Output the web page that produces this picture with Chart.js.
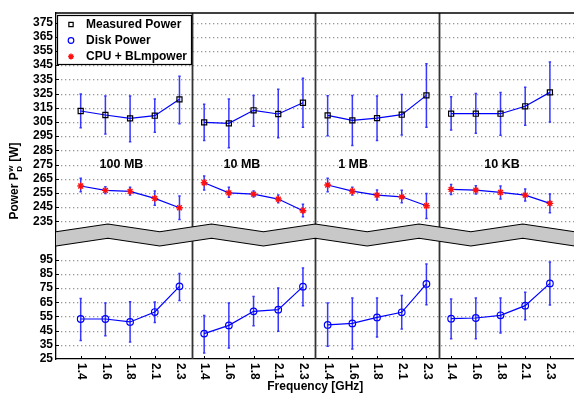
<!DOCTYPE html>
<html>
<head>
<meta charset="utf-8">
<script src="https://cdn.jsdelivr.net/npm/chart.js@4.4.1/dist/chart.umd.min.js"></script>
<style>
  html, body { margin: 0; padding: 0; overflow: hidden; background: #fff; }
  canvas { display: block; }
</style>
</head>
<body>
<canvas id="chart" width="580" height="399"></canvas>
<script>
const frequencies = ['1.4', '1.6', '1.8', '2.1', '2.3'];
const panels = ['100 MB', '10 MB', '1 MB', '10 KB'];
const panelLabelX = [2.65, 7.53, 12.03, 18.06];
const panelLabelY = 275;

// 4 panels x 5 frequencies
const measured     = [312.7, 309.9, 307.5, 309.4, 320.9,  304.7, 304.0, 313.2, 310.6, 318.5,  309.6, 306.1, 307.7, 310.1, 323.7,  310.8, 310.8, 310.8, 316.0, 325.8];
const measuredLow  = [300.9, 296.5, 291.1, 297.7, 303.7,  292.0, 286.8, 301.9, 293.9, 301.2,  295.3, 288.5, 292.0, 295.8, 301.2,  299.3, 297.0, 295.6, 302.6, 304.9];
const measuredHigh = [324.6, 323.2, 323.2, 321.1, 337.1,  317.4, 321.1, 323.7, 328.0, 335.7,  323.4, 323.7, 323.2, 324.4, 346.0,  322.7, 325.1, 325.8, 329.4, 347.2];

const disk     = [53.2, 53.2, 51.1, 58.1, 76.2,  42.9, 48.7, 58.6, 59.8, 76.0,  49.0, 50.1, 54.3, 57.9, 77.9,  53.4, 53.9, 55.8, 62.6, 78.3];
const diskLow  = [38.1, 41.4, 37.0, 50.8, 66.3,  29.2, 32.8, 48.5, 44.5, 62.6,  33.9, 32.1, 40.5, 46.1, 63.3,  39.3, 39.3, 43.3, 52.7, 63.1];
const diskHigh = [67.7, 64.5, 65.4, 65.2, 85.3,  55.7, 64.5, 69.1, 75.0, 89.1,  64.5, 68.0, 68.0, 69.8, 92.0,  67.3, 68.0, 68.0, 72.0, 93.4];

const cpu     = [259.9, 256.8, 256.1, 251.2, 244.6,  262.2, 255.1, 254.2, 250.7, 242.5,  260.6, 256.3, 253.5, 252.3, 246.0,  257.5, 257.0, 255.4, 253.5, 247.7];
const cpuLow  = [255.8, 254.7, 253.5, 246.3, 236.4,  257.0, 251.9, 252.3, 248.1, 238.2,  255.8, 253.5, 250.0, 248.1, 237.1,  254.0, 254.2, 250.7, 249.3, 241.1];
const cpuHigh = [265.3, 259.4, 259.0, 256.3, 252.8,  266.9, 259.0, 256.3, 253.5, 247.0,  265.3, 259.0, 257.0, 256.9, 254.7,  261.0, 260.1, 259.9, 257.7, 254.2];

const upperTicks = [235, 245, 255, 265, 275, 285, 295, 305, 315, 325, 335, 345, 355, 365, 375];
const lowerTicks = [25, 35, 45, 55, 65, 75, 85, 95];

const FONT = '"Liberation Sans", Arial, Helvetica, sans-serif';
const BLUE = '#0000ff';

// one point per frequency, with a null between panels so lines don't join
function toPoints(values) {
  const pts = [];
  values.forEach((v, i) => {
    pts.push({ x: i + 1, y: v });
    if (i % 5 === 4 && i < values.length - 1) pts.push({ x: i + 1.5, y: null });
  });
  return pts;
}

const datasets = [
  {
    label: 'Measured Power', yAxisID: 'yHigh', data: toPoints(measured),
    errLow: measuredLow, errHigh: measuredHigh,
    borderColor: BLUE, borderWidth: 1.2, pointStyle: 'rect', pointRadius: 3.6,
    pointBorderColor: '#000', pointBackgroundColor: 'rgba(0,0,0,0)', pointBorderWidth: 1.2
  },
  {
    label: 'Disk Power', yAxisID: 'yLow', data: toPoints(disk),
    errLow: diskLow, errHigh: diskHigh,
    borderColor: BLUE, borderWidth: 1.2, pointStyle: 'circle', pointRadius: 3.3,
    pointBorderColor: BLUE, pointBackgroundColor: 'rgba(0,0,0,0)', pointBorderWidth: 1.2
  },
  {
    label: 'CPU + BLmpower', yAxisID: 'yHigh', data: toPoints(cpu),
    errLow: cpuLow, errHigh: cpuHigh,
    borderColor: BLUE, borderWidth: 1.2, pointStyle: 'star', pointRadius: 3.4,
    pointBorderColor: '#ff1010', pointBackgroundColor: '#ff1010', pointBorderWidth: 1.4
  }
];

// dotted horizontal rule made of 1px dots, 4px apart
function dottedRule(ctx, x0, x1, py) {
  ctx.fillStyle = '#999';
  for (let px = Math.round(x0); px < x1; px += 4) ctx.fillRect(px, py, 1.3, 1.3);
}

const decorations = {
  id: 'decorations',
  beforeDatasetsDraw(chart) {
    const { ctx, chartArea: a, scales: { x, yLow, yHigh } } = chart;
    ctx.save();
    // dotted grid + small inward y ticks
    [[yHigh, upperTicks], [yLow, lowerTicks.slice(1)]].forEach(([s, values]) => {
      values.forEach(v => {
        const py = Math.round(s.getPixelForValue(v));
        dottedRule(ctx, a.left + 5, a.right, py);
        ctx.fillStyle = '#000';
        ctx.fillRect(a.left, py, 3, 1);
      });
    });
    // panel separators
    ctx.strokeStyle = '#333';
    ctx.lineWidth = 1.8;
    [5.5, 10.5, 15.5].forEach(v => {
      const px = Math.round(x.getPixelForValue(v)) + 0.5;
      ctx.beginPath(); ctx.moveTo(px, a.top); ctx.lineTo(px, a.bottom); ctx.stroke();
    });
    // error bars
    ctx.strokeStyle = 'rgba(20,20,255,0.85)';
    ctx.lineWidth = 1.5;
    chart.data.datasets.forEach(ds => {
      const y = chart.scales[ds.yAxisID];
      ds.errLow.forEach((lo, i) => {
        const px = x.getPixelForValue(i + 1);
        const y1 = y.getPixelForValue(lo), y2 = y.getPixelForValue(ds.errHigh[i]);
        ctx.beginPath();
        ctx.moveTo(px, y1); ctx.lineTo(px, y2);
        ctx.moveTo(px - 1.2, y1); ctx.lineTo(px + 1.2, y1);
        ctx.moveTo(px - 1.2, y2); ctx.lineTo(px + 1.2, y2);
        ctx.stroke();
      });
    });
    // small inward x ticks
    ctx.strokeStyle = '#000';
    ctx.lineWidth = 1;
    for (let i = 1; i <= 20; i++) {
      const px = Math.round(x.getPixelForValue(i)) + 0.5;
      ctx.beginPath(); ctx.moveTo(px, a.bottom); ctx.lineTo(px, a.bottom - 3); ctx.stroke();
    }
    ctx.restore();
  },
  afterDraw(chart) {
    const { ctx, chartArea: a, scales: { x, yHigh } } = chart;
    ctx.save();

    // top frame line
    ctx.strokeStyle = '#000';
    ctx.lineWidth = 1.3;
    ctx.beginPath(); ctx.moveTo(a.left, a.top); ctx.lineTo(a.right, a.top); ctx.stroke();

    // axis break band
    const mid = yHigh.bottom;
    const seg = (a.right - a.left) / 10;
    const upper = [], lower = [];
    for (let k = 0; k <= 10; k++) {
      const px = a.left + k * seg;
      const up = k % 2 === 1;
      upper.push([px, up ? mid - 11 : mid - 3.3]);
      lower.push([px, up ? mid + 3.3 : mid + 11]);
    }
    ctx.beginPath();
    upper.forEach(([px, py], k) => k ? ctx.lineTo(px, py) : ctx.moveTo(px, py));
    lower.slice().reverse().forEach(([px, py]) => ctx.lineTo(px, py));
    ctx.closePath();
    ctx.fillStyle = '#c8c8c8';
    ctx.fill();
    ctx.lineWidth = 1.1;
    ctx.strokeStyle = '#000';
    [upper, lower].forEach(edge => {
      ctx.beginPath();
      edge.forEach(([px, py], k) => k ? ctx.lineTo(px, py) : ctx.moveTo(px, py));
      ctx.stroke();
    });

    // panel labels
    ctx.fillStyle = '#000';
    ctx.font = 'bold 12.5px ' + FONT;
    ctx.textAlign = 'center';
    ctx.textBaseline = 'middle';
    panels.forEach((p, i) => {
      ctx.fillText(p, x.getPixelForValue(panelLabelX[i]), yHigh.getPixelForValue(panelLabelY));
    });

    // x tick labels, rotated clockwise
    ctx.font = 'bold 12px ' + FONT;
    ctx.textAlign = 'left';
    for (let i = 0; i < 20; i++) {
      ctx.save();
      ctx.translate(x.getPixelForValue(i + 1) + 0.5, a.bottom + 4);
      ctx.rotate(Math.PI / 2);
      ctx.fillText(frequencies[i % 5], 0, 0);
      ctx.restore();
    }

    // x title
    ctx.textAlign = 'center';
    ctx.fillText('Frequency [GHz]', (a.left + a.right) / 2, 387);

    // y title with sub/superscript
    drawYTitle(ctx, 13.5, 181);

    // legend
    drawLegend(ctx, chart);
    ctx.restore();
  }
};

function drawYTitle(ctx, cx, cy) {
  const big = 'bold 12px ' + FONT, small = 'bold 8px ' + FONT;
  ctx.save();
  ctx.translate(cx, cy);
  ctx.rotate(-Math.PI / 2);
  ctx.textAlign = 'left';
  ctx.textBaseline = 'alphabetic';
  ctx.font = big;
  const w1 = ctx.measureText('Power P').width;
  const w3 = ctx.measureText(' [W]').width;
  ctx.font = small;
  const w2 = Math.max(ctx.measureText('w').width, ctx.measureText('D').width) + 1;
  let px = -(w1 + w2 + w3) / 2;
  ctx.font = big;
  ctx.fillText('Power P', px, 4.5);
  px += w1;
  ctx.font = small;
  ctx.fillText('w', px + 0.5, -0.5);
  ctx.fillText('D', px + 0.5, 8.5);
  px += w2;
  ctx.font = big;
  ctx.fillText(' [W]', px, 4.5);
  ctx.restore();
}

function drawLegend(ctx, chart) {
  ctx.save();
  ctx.fillStyle = '#fff';
  ctx.strokeStyle = '#000';
  ctx.lineWidth = 1.2;
  ctx.fillRect(57.5, 15.5, 134, 49);
  ctx.strokeRect(57.5, 15.5, 134, 49);
  ctx.font = 'bold 12px ' + FONT;
  ctx.textAlign = 'left';
  ctx.textBaseline = 'middle';
  chart.data.datasets.forEach((ds, i) => {
    const y = 24.5 + i * 16;
    ctx.strokeStyle = ds.pointBorderColor;
    ctx.fillStyle = ds.pointBackgroundColor;
    ctx.lineWidth = ds.pointBorderWidth;
    Chart.helpers.drawPoint(ctx, {
      pointStyle: ds.pointStyle, radius: ds.pointRadius * 0.85, rotation: 0, borderWidth: ds.pointBorderWidth
    }, 71, y);
    ctx.fillStyle = '#000';
    ctx.fillText(ds.label, 86, y + 0.5);
  });
  ctx.restore();
}

const tickFont = { family: FONT, size: 12, weight: 'bold' };

new Chart(document.getElementById('chart'), {
  type: 'line',
  data: { datasets },
  options: {
    responsive: false,
    animation: false,
    spanGaps: false,
    layout: { padding: { top: 13, right: 3, left: 0, bottom: 0 } },
    plugins: { legend: { display: false }, tooltip: { enabled: false } },
    elements: { line: { tension: 0 } },
    scales: {
      x: {
        type: 'linear', position: 'bottom', min: 0, max: 21,
        afterBuildTicks: s => { s.ticks = frequencies.concat(frequencies, frequencies, frequencies).map((_, i) => ({ value: i + 1 })); },
        afterFit: s => { s.height = 40; },
        ticks: { display: false },
        grid: { display: false, drawTicks: false },
        border: { display: true, color: '#000', width: 1.3 }
      },
      yLow: {
        type: 'linear', position: 'left', stack: 'power', stackWeight: 124, weight: 0,
        min: 25, max: 112.4,
        afterBuildTicks: s => { s.ticks = lowerTicks.map(v => ({ value: v })); },
        afterFit: s => { s.width = 56; },
        ticks: { font: tickFont, color: '#000', padding: 3, autoSkip: false },
        grid: { display: false, drawTicks: false },
        border: { display: true, color: '#000', width: 1.3 }
      },
      yHigh: {
        type: 'linear', position: 'left', stack: 'power', stackWeight: 222, weight: 1,
        min: 225.4, max: 381.7,
        afterBuildTicks: s => { s.ticks = upperTicks.map(v => ({ value: v })); },
        afterFit: s => { s.width = 56; },
        ticks: { font: tickFont, color: '#000', padding: 3, autoSkip: false },
        grid: { display: false, drawTicks: false },
        border: { display: true, color: '#000', width: 1.3 }
      }
    }
  },
  plugins: [decorations]
});
</script>
</body>
</html>
